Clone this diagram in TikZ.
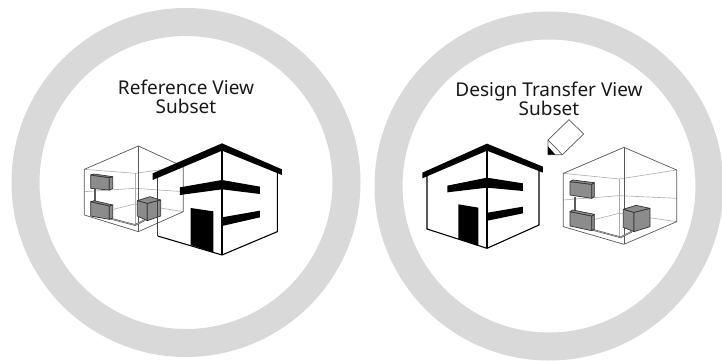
\documentclass[tikz,border=0pt]{standalone}
\usepackage{fontspec}
\setmainfont{Noto Sans}
\definecolor{ringgray}{gray}{0.85}
\definecolor{boxgray}{gray}{0.55}
\definecolor{wire}{gray}{0.35}
\definecolor{inner}{gray}{0.68}
\tikzset{
  ring/.style={draw=ringgray,line width=28pt,fill=white},
  title/.style={align=center,font=\fontsize{19}{19}\selectfont,text=black!90,inner sep=0pt},
  zoomed/.style={x=0.3333pt,y=-0.3333pt},
  frame/.style={draw=wire,line width=0.7pt},
  innerl/.style={draw=inner,line width=0.6pt},
  solid part/.style={fill=boxgray,draw=black!80,line width=0.7pt,line join=round},
  pipe/.style={draw=wire,line width=1.6pt},
  pipecore/.style={draw=inner,line width=0.6pt},
  wall/.style={draw=black,line width=1.1pt},
  ink/.style={fill=black,draw=none}
}
\begin{document}
\begin{tikzpicture}[x=1pt,y=-1pt]
\useasboundingbox (0,0) rectangle (722,360);
\clip (0,0) rectangle (722,360);
\fill[white] (0,0) rectangle (722,360);
\draw[ring] (186,182.5) circle (160.5);
\draw[ring] (549,186) circle (160.5);
\node[title] (t1) at (186,97) {Reference View\\Subset};
\node[title] (t2) at (549,99) {Design Transfer View\\Subset};
% left room
\begin{scope}[shift={(70,130)},zoomed]
\draw[innerl] (43,118)--(195,130)--(340,110);
\draw[innerl] (195,130)--(195,285);
\draw[innerl] (43,185)--(195,175)--(340,185);
\draw[innerl] (130,238)--(195,222)--(340,245);
\draw[frame] (205,48)--(43,118)--(43,255)--(205,305)--(340,245)--(340,110)--cycle;
\draw[frame] (205,48)--(205,305);
\draw[pipe] (75,178)--(75,215);
\draw[pipe] (118,265)--(195,285)--(225,270);
\draw[pipecore] (118,265)--(195,285)--(225,270);
\draw[solid part] (62,135)--(118,143)--(118,180)--(62,175)--cycle;
\draw[solid part] (118,143)--(128,140)--(128,176)--(118,180)--cycle;
\draw[solid part] (62,135)--(72,132)--(128,140)--(118,143)--cycle;
\draw[solid part] (62,215)--(118,228)--(118,268)--(62,258)--cycle;
\draw[solid part] (118,228)--(128,225)--(128,264)--(118,268)--cycle;
\draw[solid part] (62,215)--(72,212)--(128,225)--(118,228)--cycle;
\draw[solid part] (202,212)--(232,220)--(232,272)--(202,258)--cycle;
\draw[solid part] (232,220)--(272,210)--(272,258)--(232,272)--cycle;
\draw[solid part] (202,212)--(240,200)--(272,210)--(232,220)--cycle;
% left house
\draw[wall,draw=black!75,line width=1.4pt] (263,145)--(263,318);
\draw[wall] (263,318)--(456,375)--(622,305)--(622,125);
\draw[wall] (456,55)--(456,375);
\fill[ink] (248,130)--(456,40)--(636,118)--(636,135)--(456,62)--(248,150)--cycle;
\fill[ink] (330,172)--(456,150)--(570,170)--(570,192)--(456,178)--(330,195)--cycle;
\fill[ink] (456,262)--(570,242)--(570,262)--(456,288)--cycle;
\fill[ink] (362,234)--(430,244)--(430,367)--(362,345)--cycle;
\end{scope}
% right house
\begin{scope}[shift={(415,120)},zoomed]
\draw[wall] (36,165)--(36,327)--(216,385)--(372,315)--(372,150);
\draw[wall] (216,85)--(216,385);
\fill[ink] (22,158)--(216,71)--(384,140)--(384,158)--(216,92)--(22,175)--cycle;
\fill[ink] (97,197)--(216,173)--(324,190)--(324,213)--(216,203)--(97,217)--cycle;
\fill[ink] (218,278)--(324,260)--(324,280)--(218,302)--cycle;
\fill[ink] (130,253)--(190,263)--(190,378)--(130,357)--cycle;
\end{scope}
% pencil
\begin{scope}[shift={(450,70)},zoomed]
\draw[frame,fill=white] (357,149)--(401,192)--(337,254)--(294,254)--(294,210)--cycle;
\draw[frame] (294,210)--(337,254);
\fill[ink] (294,229)--(316,254)--(294,254)--cycle;
\end{scope}
% right room
\begin{scope}[shift={(550,130)},zoomed]
\draw[innerl] (40,130)--(208,147)--(380,120);
\draw[innerl] (208,147)--(208,325);
\draw[innerl] (40,210)--(208,197)--(380,205);
\draw[innerl] (135,268)--(208,250)--(380,275);
\draw[frame] (222,52)--(40,130)--(40,290)--(222,343)--(380,275)--(380,120)--cycle;
\draw[frame] (222,52)--(222,343);
\draw[pipe] (75,200)--(75,243);
\draw[pipe] (130,300)--(212,322)--(245,305);
\draw[pipecore] (130,300)--(212,322)--(245,305);
\draw[solid part] (60,155)--(125,163)--(125,205)--(60,195)--cycle;
\draw[solid part] (125,163)--(133,158)--(133,200)--(125,205)--cycle;
\draw[solid part] (60,155)--(68,150)--(133,158)--(125,163)--cycle;
\draw[solid part] (60,245)--(125,258)--(125,302)--(60,288)--cycle;
\draw[solid part] (125,258)--(133,253)--(133,298)--(125,302)--cycle;
\draw[solid part] (60,245)--(68,240)--(133,253)--(125,258)--cycle;
\draw[solid part] (220,238)--(252,247)--(252,305)--(220,292)--cycle;
\draw[solid part] (252,247)--(300,235)--(300,290)--(252,305)--cycle;
\draw[solid part] (220,238)--(258,226)--(300,235)--(252,247)--cycle;
\end{scope}
\end{tikzpicture}
\end{document}
